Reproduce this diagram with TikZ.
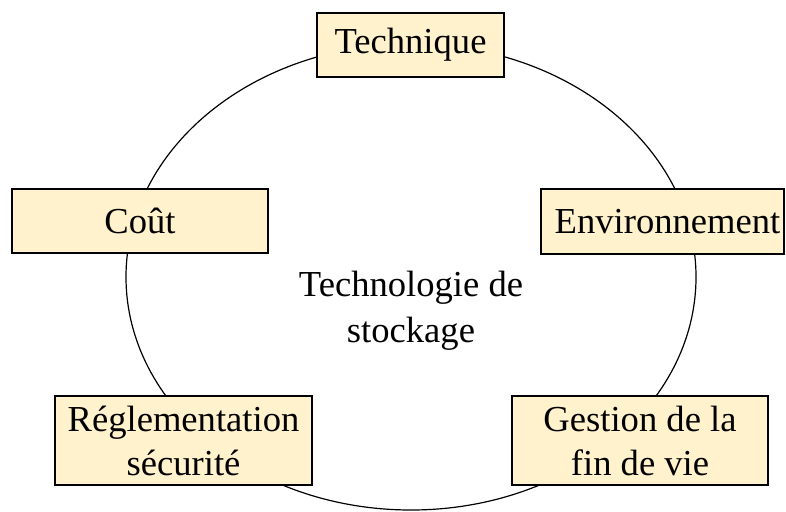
\documentclass[tikz,border=0pt]{standalone}
\usepackage{fontspec}
\setmainfont{Liberation Serif}
\definecolor{boxyellow}{HTML}{FFF2CC}

\begin{document}
\begin{tikzpicture}[x=1pt,y=-1pt,
  block/.style={rectangle,draw=black,fill=boxyellow,line width=1.2pt,inner sep=0pt,
    align=center,font=\fontsize{36.6}{44}\selectfont},
  label/.style={align=center,font=\fontsize{36.6}{46}\selectfont}]
\useasboundingbox (0,0) rectangle (786,511);
\coordinate (O) at (411,277);
\draw [line width=1.2pt] (O) ellipse [x radius=285, y radius=233];
\node at (411,311) (stock) [label] {Technologie de\\stockage};
\node at (410.5,45) (tech) [block,minimum width=187,minimum height=64] {Technique};
\node at (140,221) (cout) [block,minimum width=256,minimum height=64] {Coût};
\node at (662.5,221.5) (env) [block,minimum width=243,minimum height=65] {\hspace*{10pt}Environnement};
\node at (183.5,440.5) (regl) [block,minimum width=257,minimum height=89] {Réglementation\\sécurité};
\node at (640,440.5) (fin) [block,minimum width=256,minimum height=89] {Gestion de la\\fin de vie};
\end{tikzpicture}
\end{document}
